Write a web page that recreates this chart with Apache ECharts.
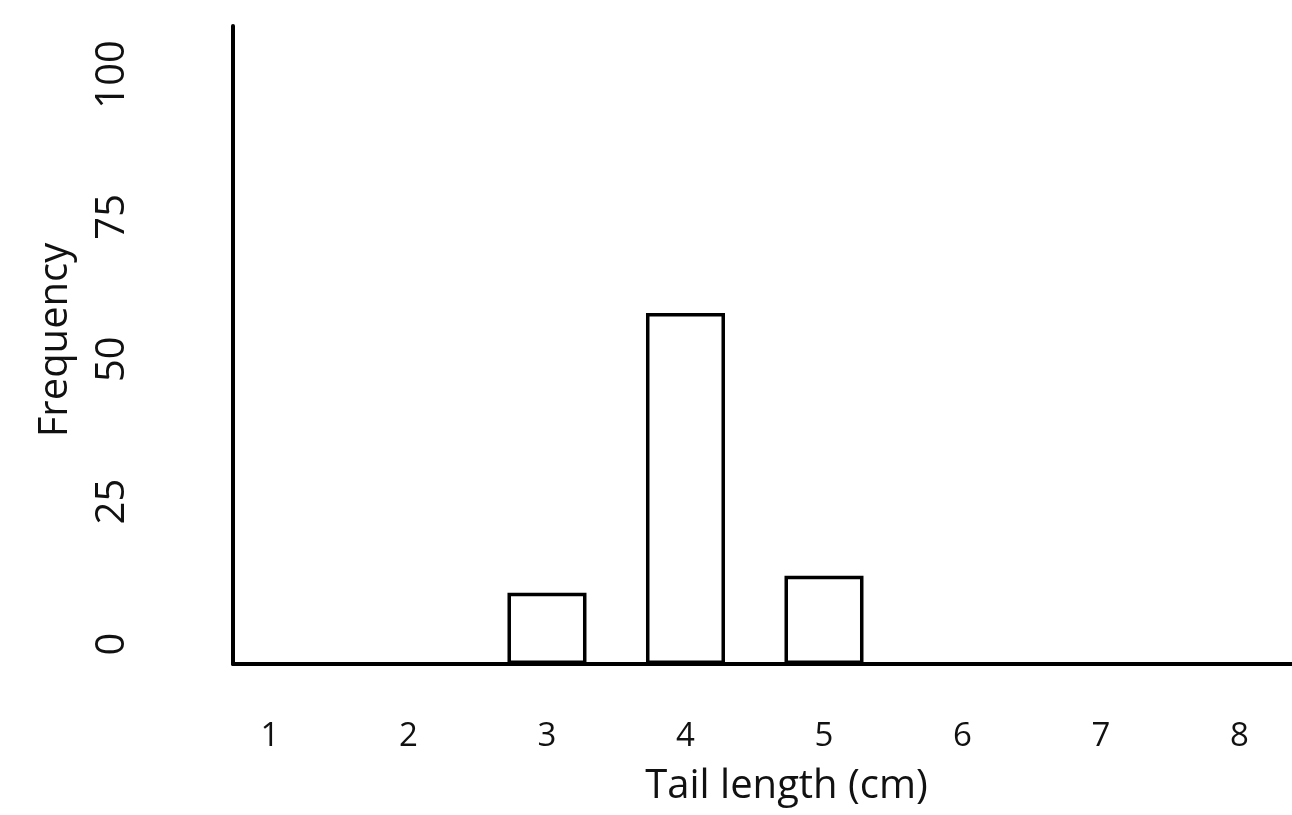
<!DOCTYPE html>
<html><head><meta charset="utf-8">
<script src="https://cdn.jsdelivr.net/npm/echarts@6/dist/echarts.min.js"></script>
<style>html,body{margin:0;padding:0;background:#fff}#c{width:1292px;height:815px}</style>
</head><body><div id="c"></div>
<script>
const lengths = [3, 4, 5];
const frequencies = [12.5, 61.6, 15.5];
const xTickLabels = [1, 2, 3, 4, 5, 6, 7, 8];
const yTickLabels = [0, 25, 50, 75, 100];

const font = 'Open Sans';
const textColor = '#111';
const chart = echarts.init(document.getElementById('c'));
chart.setOption({
  animation: false,
  backgroundColor: '#fff',
  grid: { left: 233, right: 0, top: 26, bottom: 151 },
  xAxis: {
    type: 'value', min: 0.733, max: 8.379,
    name: 'Tail length (cm)', nameLocation: 'middle', nameGap: 103,
    nameTextStyle: { fontFamily: font, fontSize: 40, color: textColor, padding: [0, 0, 0, 48] },
    axisLine: { show: true, onZero: false, lineStyle: { color: '#000', width: 4 } },
    axisTick: { show: false },
    splitLine: { show: false },
    axisLabel: { customValues: xTickLabels, margin: 56, fontFamily: font, fontSize: 33, color: textColor }
  },
  yAxis: {
    type: 'value', min: 0, max: 112,
    name: 'Frequency', nameLocation: 'middle', nameGap: 157,
    nameTextStyle: { fontFamily: font, fontSize: 40, color: textColor, padding: [0, 0, 0, 10] },
    axisLine: { show: true, lineStyle: { color: '#000', width: 4 } },
    axisTick: { show: false },
    splitLine: { show: false },
    axisLabel: { customValues: yTickLabels, rotate: 90, margin: 100, padding: [0, 0, 0, 40],
      fontFamily: font, fontSize: 40, color: textColor }
  },
  series: [{
    type: 'bar',
    data: lengths.map((l, i) => [l, frequencies[i]]),
    barWidth: 79,
    itemStyle: { color: '#fff', borderColor: '#000', borderWidth: 3.5 }
  }]
});
</script>
</body></html>
